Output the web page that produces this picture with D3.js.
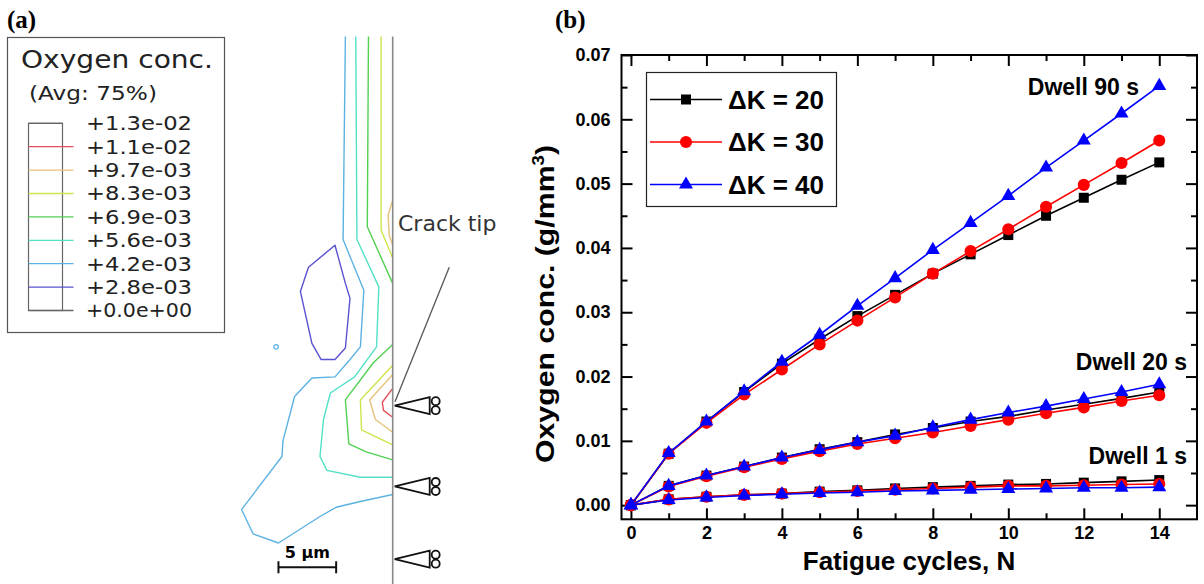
<!DOCTYPE html>
<html lang="en">
<head>
<meta charset="UTF-8">
<title>Oxygen concentration near crack tip</title>
<script src="https://cdn.jsdelivr.net/npm/d3@7/dist/d3.min.js"></script>
<style>
    body { margin: 0; background: #fff; }
</style>
</head>
<body>
<svg width="1204" height="584"></svg>
<script>
    // ---------- panel (b) data ----------
    let cycles = [0, 1, 2, 3, 4, 5, 6, 7, 8, 9, 10, 11, 12, 13, 14];

    // dwell 90 s
    let dwell90_dk20 = [0, 0.0080, 0.0130, 0.0176, 0.0220, 0.0258, 0.0294, 0.0327, 0.0360, 0.0390, 0.0420, 0.0450, 0.0478, 0.0506, 0.0533];
    let dwell90_dk30 = [0, 0.0080, 0.0128, 0.0172, 0.0211, 0.0250, 0.0287, 0.0323, 0.0360, 0.0395, 0.0429, 0.0464, 0.0498, 0.0532, 0.0567];
    let dwell90_dk40 = [0, 0.0081, 0.0130, 0.0177, 0.0223, 0.0265, 0.0310, 0.0353, 0.0397, 0.0439, 0.0481, 0.0525, 0.0567, 0.0609, 0.0652];
    // dwell 20 s
    let dwell20_dk20 = [0, 0.0030, 0.0046, 0.0060, 0.0074, 0.0087, 0.0098, 0.0110, 0.0120, 0.0130, 0.0138, 0.0148, 0.0157, 0.0166, 0.0176];
    let dwell20_dk30 = [0, 0.0029, 0.0045, 0.0059, 0.0072, 0.0084, 0.0095, 0.0104, 0.0113, 0.0123, 0.0133, 0.0143, 0.0152, 0.0162, 0.0171];
    let dwell20_dk40 = [0, 0.0030, 0.0046, 0.0060, 0.0074, 0.0086, 0.0098, 0.0108, 0.0121, 0.0133, 0.0144, 0.0154, 0.0165, 0.0176, 0.0188];
    // dwell 1 s
    let dwell1_dk20 = [0, 0.0009, 0.0013, 0.0016, 0.0018, 0.0021, 0.0023, 0.0026, 0.0028, 0.0030, 0.0032, 0.0033, 0.0035, 0.0037, 0.0039];
    let dwell1_dk30 = [0, 0.0009, 0.0013, 0.0016, 0.0018, 0.0020, 0.0022, 0.0024, 0.0026, 0.0028, 0.0030, 0.0030, 0.0031, 0.0032, 0.0033];
    let dwell1_dk40 = [0, 0.0008, 0.0012, 0.0015, 0.0017, 0.0019, 0.0020, 0.0022, 0.0023, 0.0024, 0.0025, 0.0026, 0.0027, 0.0027, 0.0028];

    let legendNames = ['\u0394K = 20', '\u0394K = 30', '\u0394K = 40'];
    let dwellLabels = ['Dwell 90 s', 'Dwell 20 s', 'Dwell 1 s'];
    let xTickMajor = [0, 2, 4, 6, 8, 10, 12, 14];
    let xTickMinor = [1, 3, 5, 7, 9, 11, 13];
    let yTickMajor = [0, 0.01, 0.02, 0.03, 0.04, 0.05, 0.06, 0.07];
    let yTickMinor = [0.005, 0.015, 0.025, 0.035, 0.045, 0.055, 0.065];

    // ---------- panel (a) data: contour lines in um, origin at the crack tip ----------
    let levelLabels = ['+1.3e-02', '+1.1e-02', '+9.7e-03', '+8.3e-03', '+6.9e-03', '+5.6e-03', '+4.2e-03', '+2.8e-03', '+0.0e+00'];
    let levelColors = [null, '#e4505c', '#e8c27e', '#d0e44c', '#52d052', '#52e0c6', '#5cb2e2', '#5a52d0', null];

    let contourRed = [[0, 1.5], [-0.9, 0.3], [-0.8, -0.4], [0, -1.0]];
    let contourOrange = [[0, 2.7], [-2.0, 0.5], [-1.5, -1.2], [0, -2.3]];
    let contourOrangeTop = [[0, 17.8], [-0.4, 16.5], [-0.3, 14.8], [0, 13.9]];
    let contourYellow = [[0, 3.5], [-2.8, 0.5], [-2.7, -2.1], [0, -3.4]];
    let contourYellowTop = [[-1.0, 32.0], [-1.0, 15.2], [0, 12.8]];
    let contourGreen = [[0, 5.3], [-1.7, 3.7], [-4.1, 0.5], [-3.8, -3.3], [-2.3, -4.0], [0, -4.7]];
    let contourGreenTop = [[-2.1, 32.0], [-2.2, 15.5], [0, 10.6]];
    let contourTeal = [[-3.2, 32.0], [-3.1, 14.4], [-1.2, 10.3], [-1.4, 5.1], [-3.3, 2.5], [-5.4, 1.1],
        [-6.0, -1.2], [-6.3, -4.4], [-5.7, -5.6], [-2.8, -6.2], [0, -6.2]];
    let contourBlue = [[-4.1, 32.0], [-4.3, 14.4], [-2.5, 10.0], [-2.8, 5.1], [-3.7, 4.0], [-5.0, 2.5],
        [-7.0, 2.4], [-8.5, 0.8], [-9.5, -3.0], [-9.6, -4.4], [-13.1, -9.0], [-12.1, -11.1],
        [-9.9, -11.9], [-6.3, -9.6], [-4.9, -8.8], [-2.8, -8.3], [0, -7.7]];
    let contourPurple = [[-5.0, 13.9], [-7.3, 12.0], [-8.0, 9.9], [-7.0, 5.4], [-6.2, 4.0], [-5.0, 4.0],
        [-4.1, 5.0], [-3.7, 9.3], [-4.1, 10.6]];
    let speck = [-10.1, 5.1];
    let crackTips = [0, -7.0, -13.3];
    let crackExtent = [32.0, -15.5];
    let leader = [[4.9, 12.0], [0.2, 0.35]];
    let scaleBar = [-9.9, -4.9, -14.0];

    let contours = [
        {level: 1, pts: contourRed},
        {level: 2, pts: contourOrange},
        {level: 2, pts: contourOrangeTop},
        {level: 3, pts: contourYellow},
        {level: 3, pts: contourYellowTop},
        {level: 4, pts: contourGreen},
        {level: 4, pts: contourGreenTop},
        {level: 5, pts: contourTeal},
        {level: 6, pts: contourBlue},
        {level: 7, pts: contourPurple, closed: true}
    ];

    let svg = d3.select('svg');
    let abaqusFont = 'DejaVu Sans, Verdana, sans-serif';
    let plotFont = 'Liberation Sans, Arial, sans-serif';
    let serifFont = 'Liberation Serif, Times New Roman, serif';

    // ================= panel (a) =================
    svg.append('text').attr('x', 7).attr('y', 28)
        .attr('font-family', serifFont).attr('font-weight', 'bold').attr('font-size', 25)
        .text('(a)');

    let leg = svg.append('g');
    leg.append('rect').attr('x', 7.5).attr('y', 37.5).attr('width', 217).attr('height', 295)
        .attr('fill', 'none').attr('stroke', '#555').attr('stroke-width', 1.2);
    leg.append('text').attr('x', 21).attr('y', 68)
        .attr('font-family', abaqusFont).attr('font-size', 24).attr('fill', '#222')
        .attr('textLength', 192).attr('lengthAdjust', 'spacingAndGlyphs')
        .text('Oxygen conc.');
    leg.append('text').attr('x', 29).attr('y', 100)
        .attr('font-family', abaqusFont).attr('font-size', 20).attr('fill', '#222')
        .attr('textLength', 128).attr('lengthAdjust', 'spacingAndGlyphs')
        .text('(Avg: 75%)');

    let levelY = d3.scaleLinear().domain([0, levelLabels.length - 1]).range([123.3, 310.5]);
    leg.append('rect').attr('x', 28.5).attr('y', levelY(0)).attr('width', 34)
        .attr('height', levelY(levelLabels.length - 1) - levelY(0))
        .attr('fill', 'none').attr('stroke', '#666').attr('stroke-width', 1.2);
    leg.selectAll('line.lvl')
        .data(levelLabels)
        .enter()
        .append('line')
        .attr('x1', 28.5).attr('x2', (d, i) => i === 0 ? 62.5 : 73.5)
        .attr('y1', (d, i) => levelY(i)).attr('y2', (d, i) => levelY(i))
        .attr('stroke', (d, i) => levelColors[i] || '#666')
        .attr('stroke-width', 1.3);
    leg.selectAll('text.lvl')
        .data(levelLabels)
        .enter()
        .append('text')
        .attr('x', 86).attr('y', (d, i) => levelY(i)).attr('dy', '0.36em')
        .attr('font-family', abaqusFont).attr('font-size', 19).attr('fill', '#222')
        .attr('textLength', 106).attr('lengthAdjust', 'spacingAndGlyphs')
        .text(d => d);

    // contour plot, 11.54 px per um, crack tip at (392.7, 405.7)
    let ax = d3.scaleLinear().domain([0, 5]).range([392.7, 450.4]);
    let ay = d3.scaleLinear().domain([0, 5]).range([405.7, 348.0]);
    let cline = d3.line().x(d => ax(d[0])).y(d => ay(d[1]));
    let cloop = d3.line().x(d => ax(d[0])).y(d => ay(d[1])).curve(d3.curveLinearClosed);

    svg.append('g').selectAll('path')
        .data(contours)
        .enter()
        .append('path')
        .attr('d', d => d.closed ? cloop(d.pts) : cline(d.pts))
        .attr('fill', 'none')
        .attr('stroke', d => levelColors[d.level])
        .attr('stroke-width', 1.4)
        .attr('stroke-linejoin', 'round');
    svg.append('circle').attr('cx', ax(speck[0])).attr('cy', ay(speck[1])).attr('r', 2.2)
        .attr('fill', 'none').attr('stroke', levelColors[6]).attr('stroke-width', 1.2);

    // crack face
    svg.append('line').attr('x1', ax(0)).attr('x2', ax(0))
        .attr('y1', ay(crackExtent[0])).attr('y2', ay(crackExtent[1]))
        .attr('stroke', '#888').attr('stroke-width', 1.6);

    // crack tip markers
    let tipG = svg.append('g').selectAll('g')
        .data(crackTips)
        .enter()
        .append('g')
        .attr('transform', d => 'translate(' + ax(0) + ',' + ay(d) + ')');
    tipG.append('path').attr('d', 'M2,0 L37,-8.5 L37,8.5 Z')
        .attr('fill', 'none').attr('stroke', '#111').attr('stroke-width', 1.8).attr('stroke-linejoin', 'miter');
    tipG.append('circle').attr('cx', 43).attr('cy', -4.5).attr('r', 4)
        .attr('fill', 'none').attr('stroke', '#111').attr('stroke-width', 1.8);
    tipG.append('circle').attr('cx', 43).attr('cy', 4.5).attr('r', 4)
        .attr('fill', 'none').attr('stroke', '#111').attr('stroke-width', 1.8);

    svg.append('line')
        .attr('x1', ax(leader[0][0])).attr('y1', ay(leader[0][1]))
        .attr('x2', ax(leader[1][0])).attr('y2', ay(leader[1][1]))
        .attr('stroke', '#555').attr('stroke-width', 1.3);
    svg.append('text').attr('x', 398).attr('y', 231)
        .attr('font-family', abaqusFont).attr('font-size', 22).attr('fill', '#333')
        .text('Crack tip');

    // scale bar
    let sb = svg.append('g').attr('stroke', '#111').attr('stroke-width', 2);
    sb.append('line').attr('x1', ax(scaleBar[0])).attr('x2', ax(scaleBar[1]))
        .attr('y1', ay(scaleBar[2])).attr('y2', ay(scaleBar[2]));
    sb.append('line').attr('x1', ax(scaleBar[0])).attr('x2', ax(scaleBar[0]))
        .attr('y1', ay(scaleBar[2]) - 6).attr('y2', ay(scaleBar[2]) + 6);
    sb.append('line').attr('x1', ax(scaleBar[1])).attr('x2', ax(scaleBar[1]))
        .attr('y1', ay(scaleBar[2]) - 6).attr('y2', ay(scaleBar[2]) + 6);
    svg.append('text').attr('x', (ax(scaleBar[0]) + ax(scaleBar[1])) / 2).attr('y', ay(scaleBar[2]) - 9)
        .attr('text-anchor', 'middle')
        .attr('font-family', abaqusFont).attr('font-weight', 'bold').attr('font-size', 16)
        .text('5 \u03bcm');

    // ================= panel (b) =================
    svg.append('text').attr('x', 555).attr('y', 28)
        .attr('font-family', serifFont).attr('font-weight', 'bold').attr('font-size', 25)
        .text('(b)');

    let scaleX = d3.scaleLinear().domain([-0.25, 15]).range([621.5, 1197]);
    let scaleY = d3.scaleLinear().domain([-0.0022, 0.07]).range([519.3, 55]);
    let x0 = scaleX.range()[0], x1 = scaleX.range()[1];
    let y0 = scaleY.range()[0], y1 = scaleY.range()[1];

    function styleAxis(g) {
        g.select('.domain').remove();
        g.selectAll('line').attr('stroke', '#000').attr('stroke-width', 2);
        g.selectAll('text').attr('font-family', plotFont).attr('font-weight', 'bold')
            .attr('font-size', 18).attr('fill', '#000');
    }

    svg.append('g').attr('transform', 'translate(0,' + y0 + ')')
        .call(d3.axisBottom(scaleX).tickValues(xTickMajor).tickSizeInner(-11).tickSizeOuter(0).tickPadding(7))
        .call(styleAxis);
    svg.append('g').attr('transform', 'translate(0,' + y0 + ')')
        .call(d3.axisBottom(scaleX).tickValues(xTickMinor).tickSizeInner(-6).tickSizeOuter(0).tickFormat(''))
        .call(styleAxis);
    svg.append('g').attr('transform', 'translate(0,' + y1 + ')')
        .call(d3.axisTop(scaleX).tickValues(xTickMajor).tickSizeInner(-11).tickSizeOuter(0).tickFormat(''))
        .call(styleAxis);
    svg.append('g').attr('transform', 'translate(0,' + y1 + ')')
        .call(d3.axisTop(scaleX).tickValues(xTickMinor).tickSizeInner(-6).tickSizeOuter(0).tickFormat(''))
        .call(styleAxis);
    svg.append('g').attr('transform', 'translate(' + x0 + ',0)')
        .call(d3.axisLeft(scaleY).tickValues(yTickMajor).tickSizeInner(-11).tickSizeOuter(0)
            .tickPadding(11).tickFormat(d3.format('.2f')))
        .call(styleAxis);
    svg.append('g').attr('transform', 'translate(' + x0 + ',0)')
        .call(d3.axisLeft(scaleY).tickValues(yTickMinor).tickSizeInner(-6).tickSizeOuter(0).tickFormat(''))
        .call(styleAxis);
    svg.append('g').attr('transform', 'translate(' + x1 + ',0)')
        .call(d3.axisRight(scaleY).tickValues(yTickMajor).tickSizeInner(-11).tickSizeOuter(0).tickFormat(''))
        .call(styleAxis);
    svg.append('g').attr('transform', 'translate(' + x1 + ',0)')
        .call(d3.axisRight(scaleY).tickValues(yTickMinor).tickSizeInner(-6).tickSizeOuter(0).tickFormat(''))
        .call(styleAxis);

    svg.append('rect').attr('x', x0).attr('y', y1).attr('width', x1 - x0).attr('height', y0 - y1)
        .attr('fill', 'none').attr('stroke', '#000').attr('stroke-width', 2);

    // series, black then red then blue on top
    let styles = [
        {color: '#000000', symbol: d3.symbolSquare, size: 100},
        {color: '#ff0000', symbol: d3.symbolCircle, size: 115},
        {color: '#0000ff', symbol: d3.symbolTriangle, size: 85}
    ];
    let groups = [
        [dwell90_dk20, dwell20_dk20, dwell1_dk20],
        [dwell90_dk30, dwell20_dk30, dwell1_dk30],
        [dwell90_dk40, dwell20_dk40, dwell1_dk40]
    ];
    let line = d3.line().x((d, i) => scaleX(cycles[i])).y(d => scaleY(d));

    groups.forEach(function (seriesList, k) {
        let st = styles[k];
        let g = svg.append('g');
        g.selectAll('path.ln')
            .data(seriesList)
            .enter()
            .append('path')
            .attr('d', d => line(d))
            .attr('fill', 'none')
            .attr('stroke', st.color)
            .attr('stroke-width', 1.6);
        seriesList.forEach(function (values) {
            g.selectAll(null)
                .data(values)
                .enter()
                .append('path')
                .attr('transform', (d, i) => 'translate(' + scaleX(cycles[i]) + ',' + scaleY(d) + ')')
                .attr('d', d3.symbol().type(st.symbol).size(st.size))
                .attr('fill', st.color);
        });
    });

    // dwell labels
    let dwellPos = [[1139, 95], [1187, 370], [1187, 464]];
    svg.selectAll('text.dwell')
        .data(dwellLabels)
        .enter()
        .append('text')
        .attr('x', (d, i) => dwellPos[i][0]).attr('y', (d, i) => dwellPos[i][1])
        .attr('text-anchor', 'end')
        .attr('font-family', plotFont).attr('font-weight', 'bold').attr('font-size', 23)
        .attr('stroke', '#fff').attr('stroke-width', 6).attr('paint-order', 'stroke')
        .text(d => d);

    // legend
    let lg = svg.append('g');
    lg.append('rect').attr('x', 646.5).attr('y', 72.5).attr('width', 190).attr('height', 134)
        .attr('fill', '#fff').attr('stroke', '#222').attr('stroke-width', 1.2);
    let rowY = d3.scaleLinear().domain([0, 2]).range([99.5, 184.5]);
    legendNames.forEach(function (name, i) {
        let st = styles[i];
        lg.append('line').attr('x1', 650).attr('x2', 722).attr('y1', rowY(i)).attr('y2', rowY(i))
            .attr('stroke', st.color).attr('stroke-width', 1.6);
        lg.append('path').attr('transform', 'translate(686,' + rowY(i) + ')')
            .attr('d', d3.symbol().type(st.symbol).size(st.size)).attr('fill', st.color);
        lg.append('text').attr('x', 728).attr('y', rowY(i)).attr('dy', '0.36em')
            .attr('font-family', plotFont).attr('font-weight', 'bold').attr('font-size', 26)
            .text(name);
    });

    // axis titles
    svg.append('text').attr('x', 909).attr('y', 570).attr('text-anchor', 'middle')
        .attr('font-family', plotFont).attr('font-weight', 'bold').attr('font-size', 26)
        .text('Fatigue cycles, N');
    let yt = svg.append('text').attr('transform', 'translate(554,304) rotate(-90)')
        .attr('text-anchor', 'middle')
        .attr('font-family', plotFont).attr('font-weight', 'bold').attr('font-size', 26)
        .attr('textLength', 318).attr('lengthAdjust', 'spacingAndGlyphs');
    yt.append('tspan').text('Oxygen conc. (g/mm');
    yt.append('tspan').attr('dy', -10).attr('font-size', 16).text('3');
    yt.append('tspan').attr('dy', 10).text(')');
</script>
</body>
</html>
